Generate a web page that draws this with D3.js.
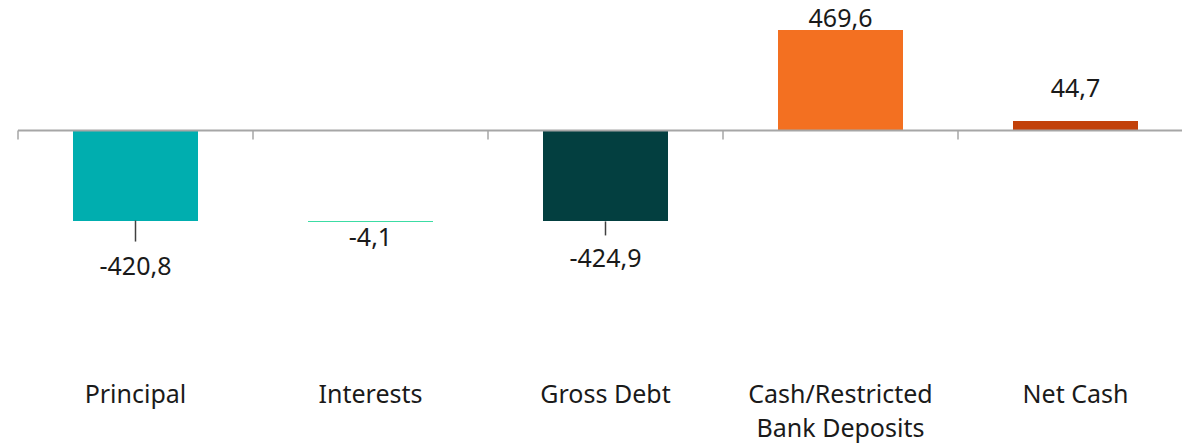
<!DOCTYPE html>
<html>
<head>
<meta charset="utf-8">
<script src="https://cdn.jsdelivr.net/npm/d3@7"></script>
<style>
  html, body { margin: 0; padding: 0; background: #ffffff; }
  svg { display: block; }
  text { font-family: "Noto Sans", "Open Sans", sans-serif; fill: #1a1a1a; }
</style>
</head>
<body>
<svg id="chart" width="1182" height="446"></svg>
<script>
// Debt vs. cash bridge (values in millions)
const categories = ["Principal", "Interests", "Gross Debt", "Cash/Restricted\nBank Deposits", "Net Cash"];
// each bar spans [start, end]; Interests floats below Principal
const barStart = [0, -420.8, 0, 0, 0];
const barEnd   = [-420.8, -424.9, -424.9, 469.6, 44.7];
const valueLabels = ["-420,8", "-4,1", "-424,9", "469,6", "44,7"];
const barColors = ["#00AEAF", "#3CDCA4", "#033F40", "#F37021", "#C2410A"];

// label placement relative to the end of each bar (px)
const labelOffset = [54, 25, 46, -3, -24];
const leaderLength = [21, 0, 14, 0, 0];

const W = 1182, H = 446;
const svg = d3.select("#chart");

const x = d3.scaleBand()
  .domain(categories)
  .range([18, 1193])
  .paddingInner(0.464)
  .paddingOuter(0.232);

const y = d3.scaleLinear()
  .domain([-500, 500])
  .range([237.5, 23.5]);

const rows = categories.map((c, i) => ({
  cat: c, start: barStart[i], end: barEnd[i], label: valueLabels[i],
  color: barColors[i], off: labelOffset[i], lead: leaderLength[i]
}));

// bars
svg.append("g").selectAll("rect")
  .data(rows)
  .join("rect")
  .attr("shape-rendering", "crispEdges")
  .attr("x", d => x(d.cat))
  .attr("width", x.bandwidth())
  .attr("y", d => Math.min(y(d.start), y(d.end)))
  .attr("height", d => Math.max(1, Math.abs(y(d.start) - y(d.end))))
  .attr("fill", d => d.color);

// category axis on the zero line
const axisG = svg.append("g");
axisG.append("line")
  .attr("x1", 18).attr("x2", W)
  .attr("y1", y(0)).attr("y2", y(0))
  .attr("stroke", "#A6A6A6").attr("stroke-width", 2);
const tickXs = categories.map(c => x(c) - x.step() * x.paddingInner() / 2);
axisG.selectAll("line.tick")
  .data(tickXs)
  .join("line")
  .attr("class", "tick")
  .attr("x1", d => d).attr("x2", d => d)
  .attr("y1", y(0)).attr("y2", y(0) + 9)
  .attr("stroke", "#A6A6A6").attr("stroke-width", 1.5);

// leader lines
svg.append("g").selectAll("line")
  .data(rows.filter(d => d.lead > 0))
  .join("line")
  .attr("x1", d => x(d.cat) + x.bandwidth() / 2)
  .attr("x2", d => x(d.cat) + x.bandwidth() / 2)
  .attr("y1", d => y(d.end))
  .attr("y2", d => y(d.end) + d.lead)
  .attr("stroke", "#404040").attr("stroke-width", 1.5);

// value labels
svg.append("g").selectAll("text")
  .data(rows)
  .join("text")
  .attr("x", d => x(d.cat) + x.bandwidth() / 2)
  .attr("y", d => y(d.end) + d.off)
  .attr("text-anchor", "middle")
  .attr("font-size", 25)
  .text(d => d.label);

// category labels
const catG = svg.append("g").selectAll("text")
  .data(rows)
  .join("text")
  .attr("x", d => x(d.cat) + x.bandwidth() / 2)
  .attr("y", 403)
  .attr("text-anchor", "middle")
  .attr("font-size", 25);
catG.selectAll("tspan")
  .data(d => d.cat.split("\n").map((t, i) => ({ t, i, cx: x(d.cat) + x.bandwidth() / 2 })))
  .join("tspan")
  .attr("x", d => d.cx)
  .attr("dy", d => d.i === 0 ? 0 : 34)
  .text(d => d.t);
</script>
</body>
</html>
